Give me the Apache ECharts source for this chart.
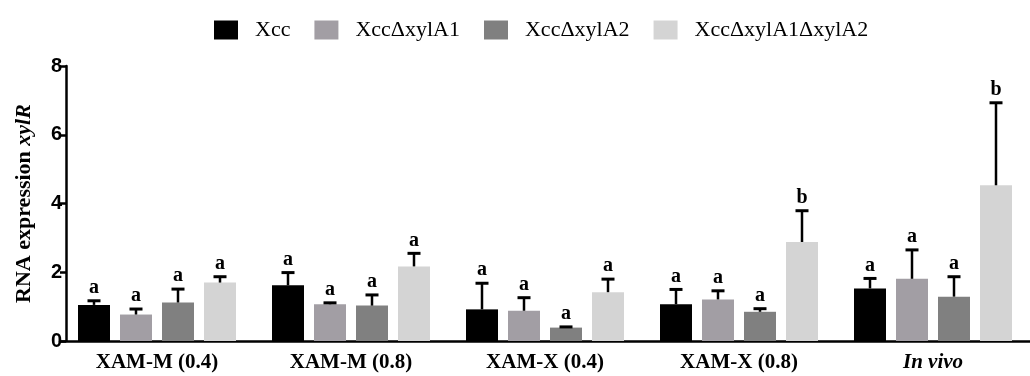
<!DOCTYPE html>
<html>
<head>
<meta charset="utf-8">
<script src="https://cdn.jsdelivr.net/npm/echarts@6/dist/echarts.min.js"></script>
<style>html,body{margin:0;padding:0;background:#fff;}#c{width:1030px;height:376px;}</style>
</head>
<body>
<div id="c"></div>
<script>
const categories = ['XAM-M (0.4)', 'XAM-M (0.8)', 'XAM-X (0.4)', 'XAM-X (0.8)', 'In vivo'];
const seriesNames = ['Xcc', 'XccΔxylA1', 'XccΔxylA2', 'XccΔxylA1ΔxylA2'];
const xccMean   = [1.05, 1.62, 0.92, 1.07, 1.53];
const xccUpper  = [1.17, 1.99, 1.68, 1.50, 1.82];
const a1Mean    = [0.77, 1.07, 0.88, 1.21, 1.81];
const a1Upper   = [0.93, 1.11, 1.26, 1.46, 2.65];
const a2Mean    = [1.12, 1.03, 0.39, 0.85, 1.29];
const a2Upper   = [1.51, 1.34, 0.41, 0.94, 1.87];
const a1a2Mean  = [1.70, 2.17, 1.42, 2.88, 4.53];
const a1a2Upper = [1.87, 2.55, 1.80, 3.79, 6.93];
const xccLetters  = ['a', 'a', 'a', 'a', 'a'];
const a1Letters   = ['a', 'a', 'a', 'a', 'a'];
const a2Letters   = ['a', 'a', 'a', 'a', 'a'];
const a1a2Letters = ['a', 'a', 'a', 'b', 'b'];
const yTicks = [0, 2, 4, 6, 8];

const means = [xccMean, a1Mean, a2Mean, a1a2Mean];
const uppers = [xccUpper, a1Upper, a2Upper, a1a2Upper];
const letters = [xccLetters, a1Letters, a2Letters, a1a2Letters];
const colors = ['#000000', '#a29ea4', '#808080', '#d4d4d4'];

const BAR_W = 32, BAR_GAP = 10;
const serif = '"Liberation Serif", "Times New Roman", serif';

const chart = echarts.init(document.getElementById('c'), null, {renderer: 'canvas'});

const series = [];
means.forEach((m, i) => {
  series.push({
    name: seriesNames[i], type: 'bar', data: m,
    barWidth: BAR_W, barGap: (BAR_GAP / BAR_W * 100) + '%',
    itemStyle: {color: colors[i]}, z: 2
  });
});
means.forEach((m, i) => {
  const offset = (i - 1.5) * (BAR_W + BAR_GAP);
  series.push({
    type: 'custom', name: seriesNames[i] + ' err', z: 5,
    data: m.map((v, k) => [k, v, uppers[i][k], letters[i][k]]),
    encode: {x: 0, y: 2},
    renderItem: function (params, api) {
      const k = api.value(0);
      const p0 = api.coord([k, api.value(1)]);
      const p1 = api.coord([k, api.value(2)]);
      const x = p0[0] + offset;
      const letter = letters[i][params.dataIndex];
      return {
        type: 'group',
        children: [
          {type: 'line', shape: {x1: x, y1: p0[1], x2: x, y2: p1[1]}, style: {stroke: '#000', lineWidth: 2.5}},
          {type: 'line', shape: {x1: x - 6.5, y1: p1[1], x2: x + 6.5, y2: p1[1]}, style: {stroke: '#000', lineWidth: 3}},
          {type: 'text', x: x, y: p1[1] - 3, style: {text: letter, fill: '#000', font: 'bold 20px ' + serif, align: 'center', verticalAlign: 'bottom'}}
        ]
      };
    },
    silent: true
  });
});

chart.setOption({
  animation: false,
  backgroundColor: '#fff',
  legend: {
    data: seriesNames, top: 14, left: 209, itemWidth: 24, itemHeight: 19, itemGap: 24,
    icon: 'rect',
    textStyle: {fontFamily: serif, fontSize: 22, color: '#000', padding: [0, 0, 0, 12]}
  },
  grid: {left: 60, right: 0, top: 66, bottom: 35},
  xAxis: {
    type: 'category', data: categories,
    axisLine: {lineStyle: {color: '#000', width: 2.5}},
    axisTick: {alignWithLabel: true, length: 6, lineStyle: {color: '#000', width: 2.5}},
    axisLabel: {
      margin: 11, color: '#000', fontFamily: serif, fontSize: 21, fontWeight: 'bold',
      formatter: v => v === 'In vivo' ? '{it|' + v + '}' : v,
      rich: {it: {fontFamily: serif, fontSize: 21, fontWeight: 'bold', fontStyle: 'italic', color: '#000'}}
    }
  },
  yAxis: {
    type: 'value', min: yTicks[0], max: yTicks[yTicks.length - 1], interval: yTicks[1] - yTicks[0],
    offset: -6,
    splitLine: {show: false},
    axisLine: {show: true, lineStyle: {color: '#000', width: 2.5}},
    axisTick: {show: true, length: 6, lineStyle: {color: '#000', width: 2.5}},
    axisLabel: {margin: 4, color: '#000', fontFamily: '"Liberation Sans", Arial, sans-serif', fontSize: 20, fontWeight: 'bold'},
    name: '{n|RNA expression }{i|xylR}',
    nameLocation: 'middle', nameGap: 31, nameRotate: 90,
    nameTextStyle: {
      rich: {
        n: {fontFamily: serif, fontSize: 22, fontWeight: 'bold', color: '#000'},
        i: {fontFamily: serif, fontSize: 22, fontWeight: 'bold', fontStyle: 'italic', color: '#000'}
      }
    }
  },
  series: series
});
</script>
</body>
</html>
